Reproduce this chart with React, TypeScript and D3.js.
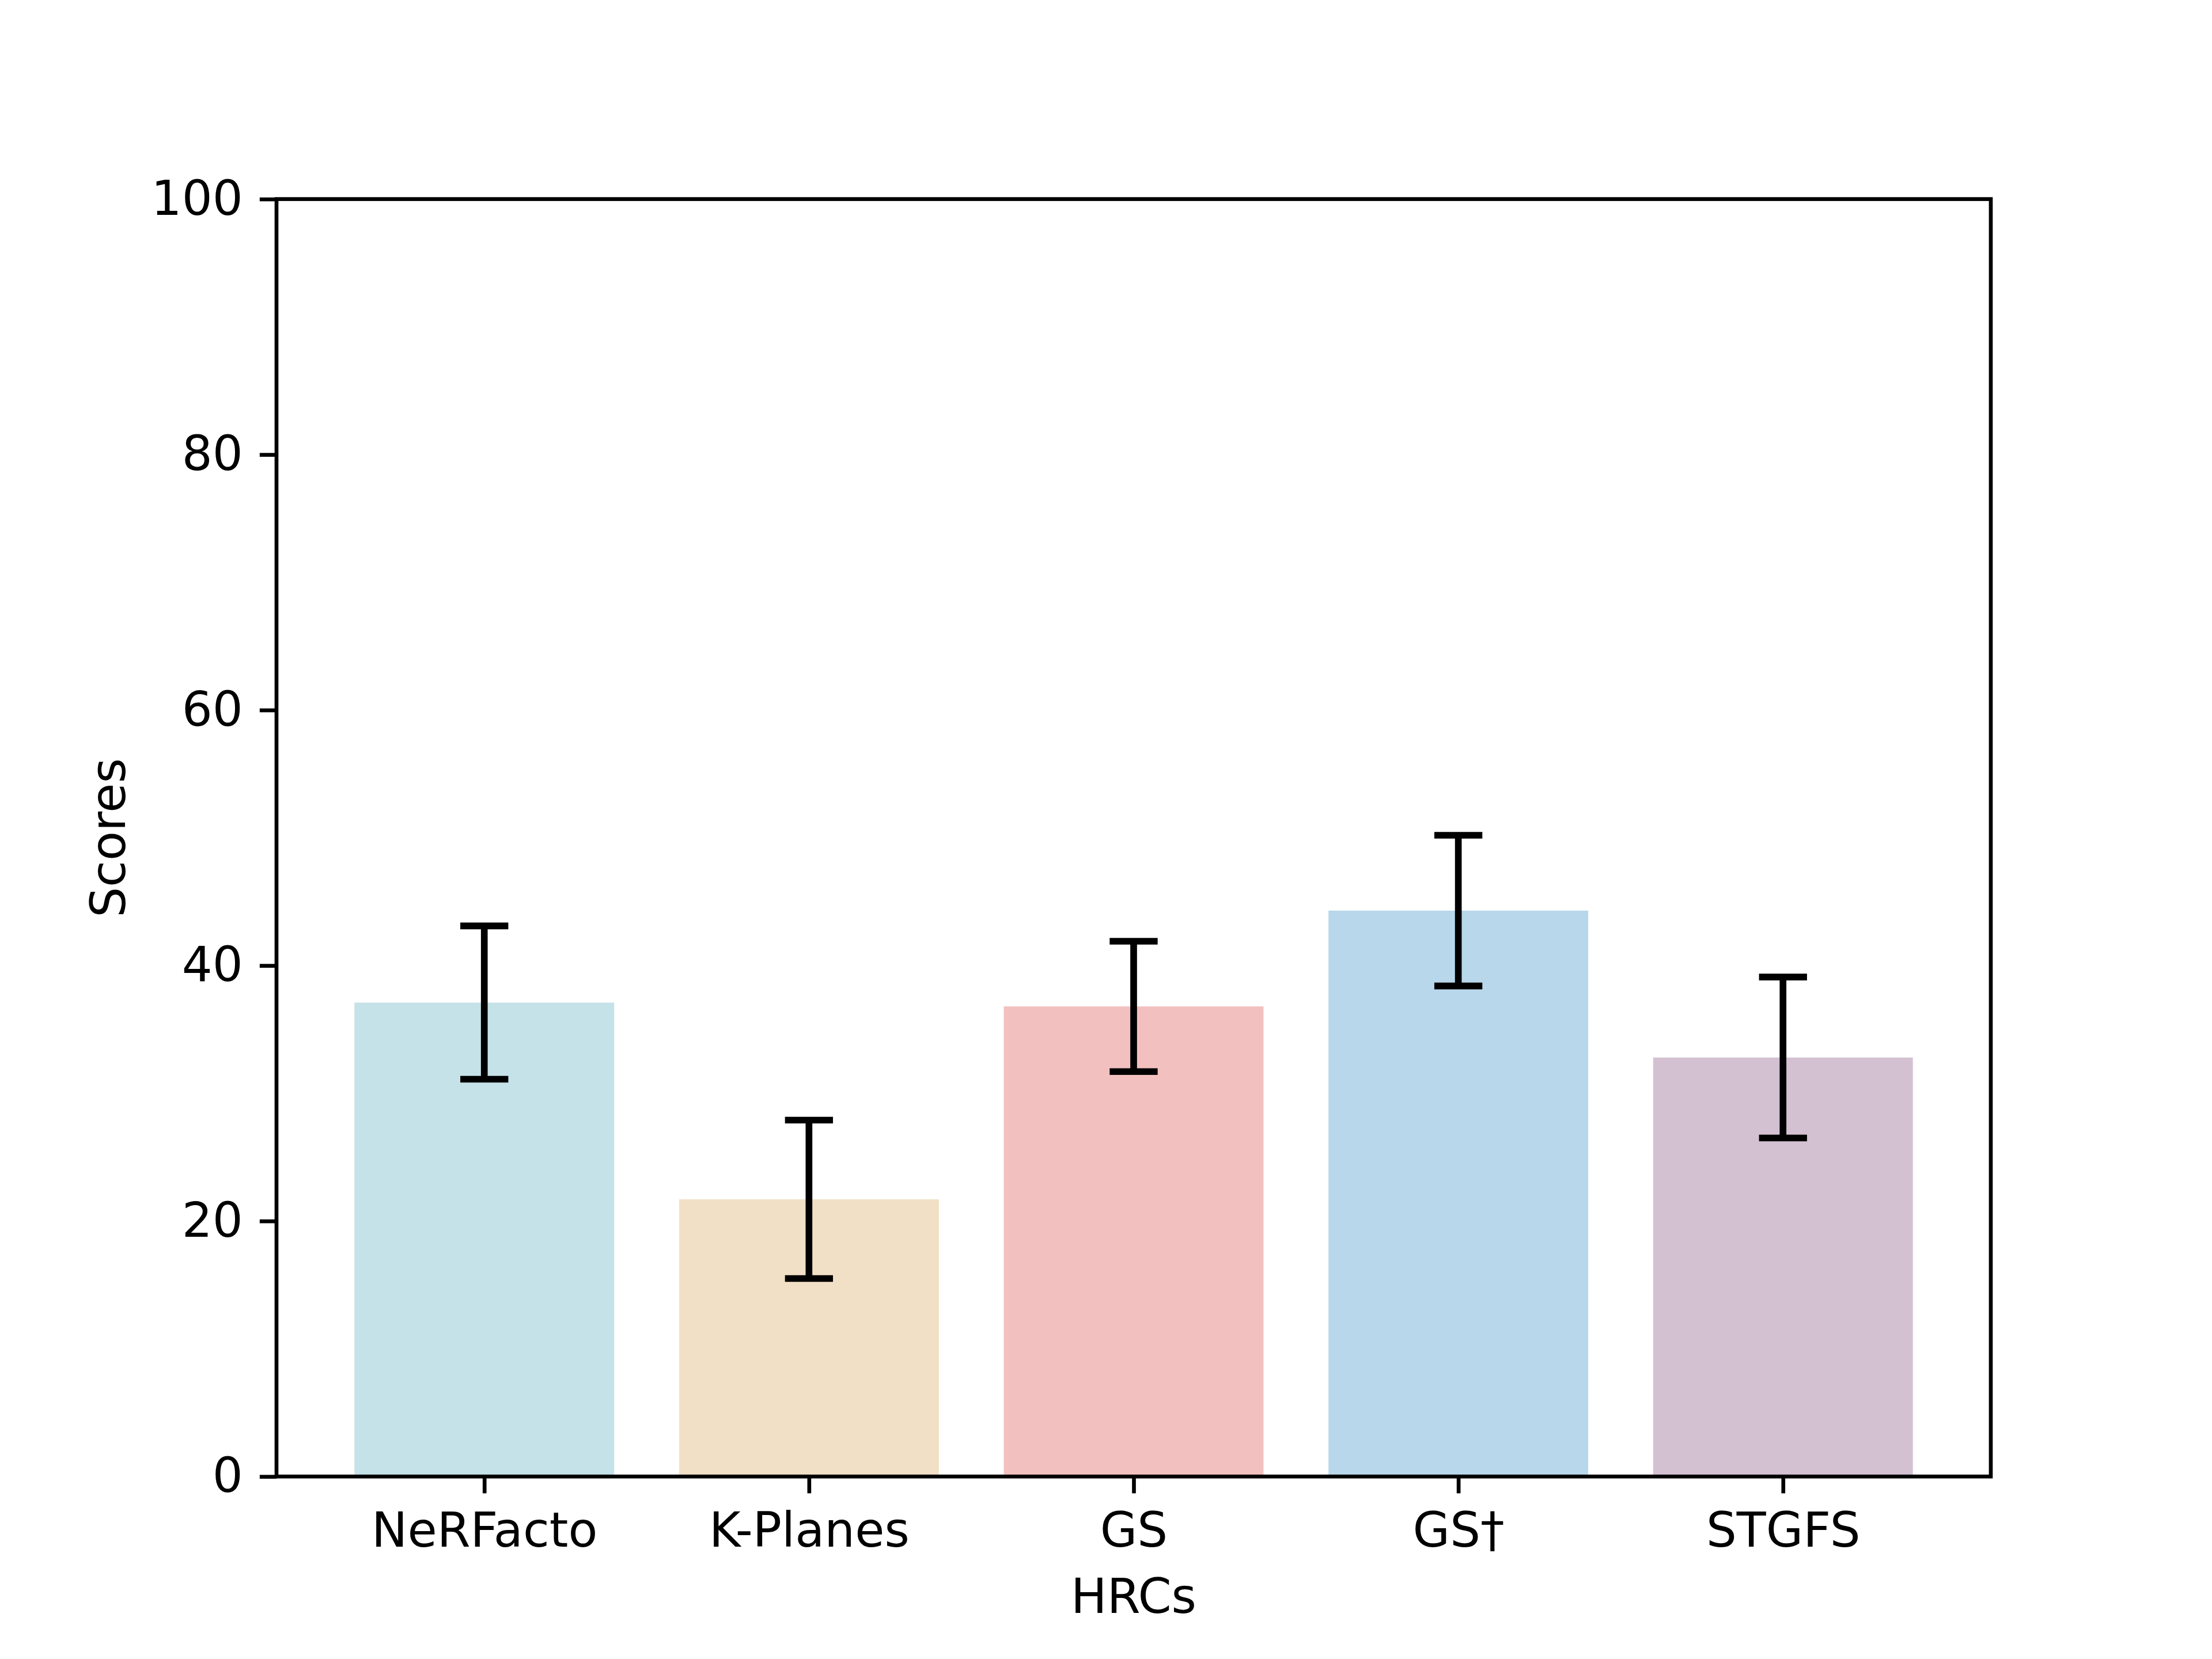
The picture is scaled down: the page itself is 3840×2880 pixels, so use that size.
import { useEffect, useRef } from 'react';
import * as d3 from 'd3';

const methods = ['NeRFacto', 'K-Planes', 'GS', 'GS\u2020', 'STGFS'];
const meanScores = [37.1, 21.7, 36.8, 44.3, 32.8];
const errScores = [6.0, 6.2, 5.1, 5.9, 6.3];
const barColors = ['#c5e2e8', '#f1e0c5', '#f3c0c0', '#b8d7ea', '#d3c1d2'];
const yTicks = [0, 20, 40, 60, 80, 100];

type Row = { name: string; mean: number; err: number; color: string };

export default function App() {
  const svgRef = useRef<SVGSVGElement>(null);

  useEffect(() => {
    if (!svgRef.current) return;
    document.body.style.margin = '0';

    const svg = d3.select(svgRef.current);
    svg.selectAll('*').remove();

    const W = 3840;
    const H = 2880;
    const margin = { top: 345.6, right: 384, bottom: 316.8, left: 480 };
    const width = W - margin.left - margin.right;
    const height = H - margin.top - margin.bottom;
    const pt = 600 / 72;
    const font = 'DejaVu Sans, sans-serif';
    const fontSize = 10 * pt;

    svg.attr('width', W).attr('height', H);
    svg.append('rect').attr('width', W).attr('height', H).attr('fill', '#ffffff');

    const g = svg.append('g').attr('transform', `translate(${margin.left},${margin.top})`);

    const data: Row[] = methods.map((name, i) => ({
      name,
      mean: meanScores[i],
      err: errScores[i],
      color: barColors[i],
    }));

    // matplotlib-like x range: bars at 0..n-1, width 0.8, 5% margins
    const n = data.length;
    const lo = -0.4;
    const hi = n - 1 + 0.4;
    const pad = (hi - lo) * 0.05;
    const x = d3.scaleLinear().domain([lo - pad, hi + pad]).range([0, width]);
    const y = d3.scaleLinear().domain([0, 100]).range([height, 0]);
    const barW = x(0.8) - x(0);

    g.selectAll('.bar')
      .data(data)
      .enter()
      .append('rect')
      .attr('class', 'bar')
      .attr('x', (_d, i) => x(i) - barW / 2)
      .attr('y', d => y(d.mean))
      .attr('width', barW)
      .attr('height', d => y(0) - y(d.mean))
      .attr('fill', d => d.color);

    const lw = 1.4 * pt;
    const cap = 5 * pt;
    const eb = g.selectAll('.err').data(data).enter().append('g').attr('class', 'err');
    eb.append('line')
      .attr('x1', (_d, i) => x(i))
      .attr('x2', (_d, i) => x(i))
      .attr('y1', d => y(d.mean - d.err))
      .attr('y2', d => y(d.mean + d.err))
      .attr('stroke', '#000')
      .attr('stroke-width', lw);
    [-1, 1].forEach(s => {
      eb.append('line')
        .attr('x1', (_d, i) => x(i) - cap)
        .attr('x2', (_d, i) => x(i) + cap)
        .attr('y1', d => y(d.mean + s * d.err))
        .attr('y2', d => y(d.mean + s * d.err))
        .attr('stroke', '#000')
        .attr('stroke-width', lw);
    });

    const tickLen = 3.5 * pt;
    const tickPad = 3.5 * pt;

    const xAxis = d3
      .axisBottom(x)
      .tickValues(d3.range(n))
      .tickFormat((d: any) => methods[Number(d)])
      .tickSize(tickLen)
      .tickPadding(tickPad);
    const xg = g.append('g').attr('transform', `translate(0,${height})`).call(xAxis as any);

    const yAxis = d3
      .axisLeft(y)
      .tickValues(yTicks)
      .tickFormat((d: any) => String(d))
      .tickSize(tickLen)
      .tickPadding(tickPad);
    const yg = g.append('g').call(yAxis as any);

    [xg, yg].forEach(a => {
      a.select('.domain').remove();
      a.selectAll('line').attr('stroke', '#000').attr('stroke-width', 0.8 * pt);
      a.selectAll('text')
        .attr('fill', '#000')
        .style('font-family', font)
        .style('font-size', `${fontSize}px`);
    });
    xg.selectAll('text').attr('dy', '0.76em');

    // axes frame
    g.append('rect')
      .attr('width', width)
      .attr('height', height)
      .attr('fill', 'none')
      .attr('stroke', '#000')
      .attr('stroke-width', 0.8 * pt);

    g.append('text')
      .attr('x', width / 2)
      .attr('y', height + 237)
      .attr('text-anchor', 'middle')
      .style('font-family', font)
      .style('font-size', `${fontSize}px`)
      .text('HRCs');

    g.append('text')
      .attr('transform', `translate(${217 - margin.left},${height / 2}) rotate(-90)`)
      .attr('text-anchor', 'middle')
      .style('font-family', font)
      .style('font-size', `${fontSize}px`)
      .text('Scores');
  }, []);

  return <svg ref={svgRef} style={{ display: 'block' }}></svg>;
}
